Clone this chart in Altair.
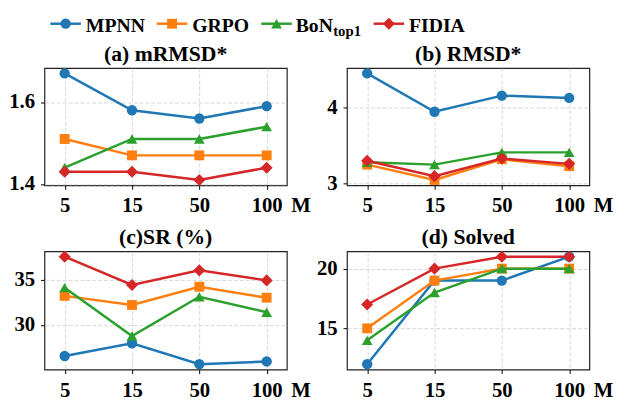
import altair as alt
import pandas as pd

# ---- data ----
M_LABELS = ["5", "15", "50", "100"]
SERIES = ["MPNN", "GRPO", "BoN", "FIDIA"]
SUBSCRIPT = ["", "", "top1", ""]
COLORS = ["#1f77b4", "#ff7f0e", "#2ca02c", "#d62728"]
SHAPES = ["circle", "square", "triangle-up", "diamond"]
SIZES = [110, 100, 120, 150]

mrmsd_mpnn = [1.67, 1.58, 1.56, 1.59]
mrmsd_grpo = [1.51, 1.47, 1.47, 1.47]
mrmsd_bon = [1.44, 1.51, 1.51, 1.54]
mrmsd_fidia = [1.43, 1.43, 1.41, 1.44]

rmsd_mpnn = [4.44, 3.94, 4.15, 4.12]
rmsd_grpo = [3.25, 3.05, 3.32, 3.23]
rmsd_bon = [3.28, 3.25, 3.41, 3.41]
rmsd_fidia = [3.30, 3.10, 3.33, 3.26]

sr_mpnn = [26.6, 28.0, 25.7, 26.0]
sr_grpo = [33.2, 32.2, 34.2, 33.0]
sr_bon = [34.1, 28.8, 33.1, 31.4]
sr_fidia = [37.5, 34.4, 36.0, 34.9]

solved_mpnn = [12, 19, 19, 21]
solved_grpo = [15, 19, 20, 20]
solved_bon = [14, 18, 20, 20]
solved_fidia = [17, 20, 21, 21]

TITLES = ["(a) mRMSD*", "(b) RMSD*", "(c)SR (%)", "(d) Solved"]
YTICKS_A = [1.4, 1.6]
YTICKS_B = [3, 4]
YTICKS_C = [30, 35]
YTICKS_D = [15, 20]

FONT = "Liberation Serif"
W = 246
H_TOP, H_BOT = 119, 120


def panel(title, series_values, ticks, fmt, h, with_legend=False):
    allv = [v for vals in series_values for v in vals]
    lo, hi = min(allv), max(allv)
    pad = 0.05 * (hi - lo)
    xenc = alt.X(
        "M:O", sort=M_LABELS,
        scale=alt.Scale(type="point", padding=0.3),
        axis=alt.Axis(title="M", titleX=W + 4, titleY=27, titleAlign="left",
                      titleBaseline="alphabetic", labelAngle=0),
    )
    yenc = alt.Y(
        "v:Q",
        scale=alt.Scale(domain=[lo - pad, hi + pad], nice=False, zero=False),
        axis=alt.Axis(title=None, values=ticks, format=fmt),
    )
    layers = []
    for i, s in enumerate(SERIES):
        d = pd.DataFrame({"M": M_LABELS, "v": series_values[i], "s": s})
        base = alt.Chart(d).encode(x=xenc, y=yenc)
        layers.append(base.mark_line(color=COLORS[i], strokeWidth=2.5))
        layers.append(base.mark_point(shape=SHAPES[i], filled=True, size=SIZES[i],
                                      color=COLORS[i], opacity=1))
    layers.append(
        alt.Chart(pd.DataFrame({"t": [title]})).mark_text(
            font=FONT, fontSize=22, fontWeight="bold", color="black",
            align="center", baseline="alphabetic",
        ).encode(x=alt.value(W / 2), y=alt.value(-7), text="t:N")
    )
    if with_legend:
        line_x = [6, 114, 220, 334]
        text_x = [42, 150, 255, 370]
        for i, s in enumerate(SERIES):
            ld = pd.DataFrame({"name": [s], "sub": [SUBSCRIPT[i]]})
            lb = alt.Chart(ld)
            layers.append(lb.mark_rule(color=COLORS[i], strokeWidth=2.5).encode(
                x=alt.value(line_x[i]), x2=alt.value(line_x[i] + 31), y=alt.value(-45)))
            layers.append(lb.mark_point(shape=SHAPES[i], filled=True, size=SIZES[i],
                                        color=COLORS[i], opacity=1).encode(
                x=alt.value(line_x[i] + 15.5), y=alt.value(-45)))
            layers.append(lb.mark_text(font=FONT, fontSize=20, fontWeight="bold",
                                       color="black", align="left",
                                       baseline="alphabetic").encode(
                x=alt.value(text_x[i]), y=alt.value(-37), text="name:N"))
            if SUBSCRIPT[i]:
                layers.append(lb.mark_text(font=FONT, fontSize=15, fontWeight="bold",
                                           color="black", align="left",
                                           baseline="alphabetic").encode(
                    x=alt.value(text_x[i] + 38), y=alt.value(-33), text="sub:N"))
    return alt.layer(*layers).properties(width=W, height=h)


pa = panel(TITLES[0], [mrmsd_mpnn, mrmsd_grpo, mrmsd_bon, mrmsd_fidia], YTICKS_A, ".1f", H_TOP, True)
pb = panel(TITLES[1], [rmsd_mpnn, rmsd_grpo, rmsd_bon, rmsd_fidia], YTICKS_B, "d", H_TOP)
pc = panel(TITLES[2], [sr_mpnn, sr_grpo, sr_bon, sr_fidia], YTICKS_C, "d", H_BOT)
pd_ = panel(TITLES[3], [solved_mpnn, solved_grpo, solved_bon, solved_fidia], YTICKS_D, "d", H_BOT)

chart = alt.concat(
    pa, pb, pc, pd_, columns=2, spacing={"row": 67, "column": 61}, bounds="flush"
).properties(padding={"left": 0, "top": 4, "right": 0, "bottom": 0}).configure_axis(
    labelFont=FONT, labelFontSize=21, labelFontWeight="bold", labelColor="black",
    titleFont=FONT, titleFontSize=21, titleFontWeight="bold", titleColor="black",
    tickColor="black", tickSize=4, tickWidth=1, labelPadding=6, domain=False,
    grid=True, gridColor="#cccccc", gridDash=[4, 2], gridWidth=0.8,
).configure_view(stroke="#222222", strokeWidth=1.2)

chart.save("out.html", embed_options={"renderer": "svg", "actions": False})
